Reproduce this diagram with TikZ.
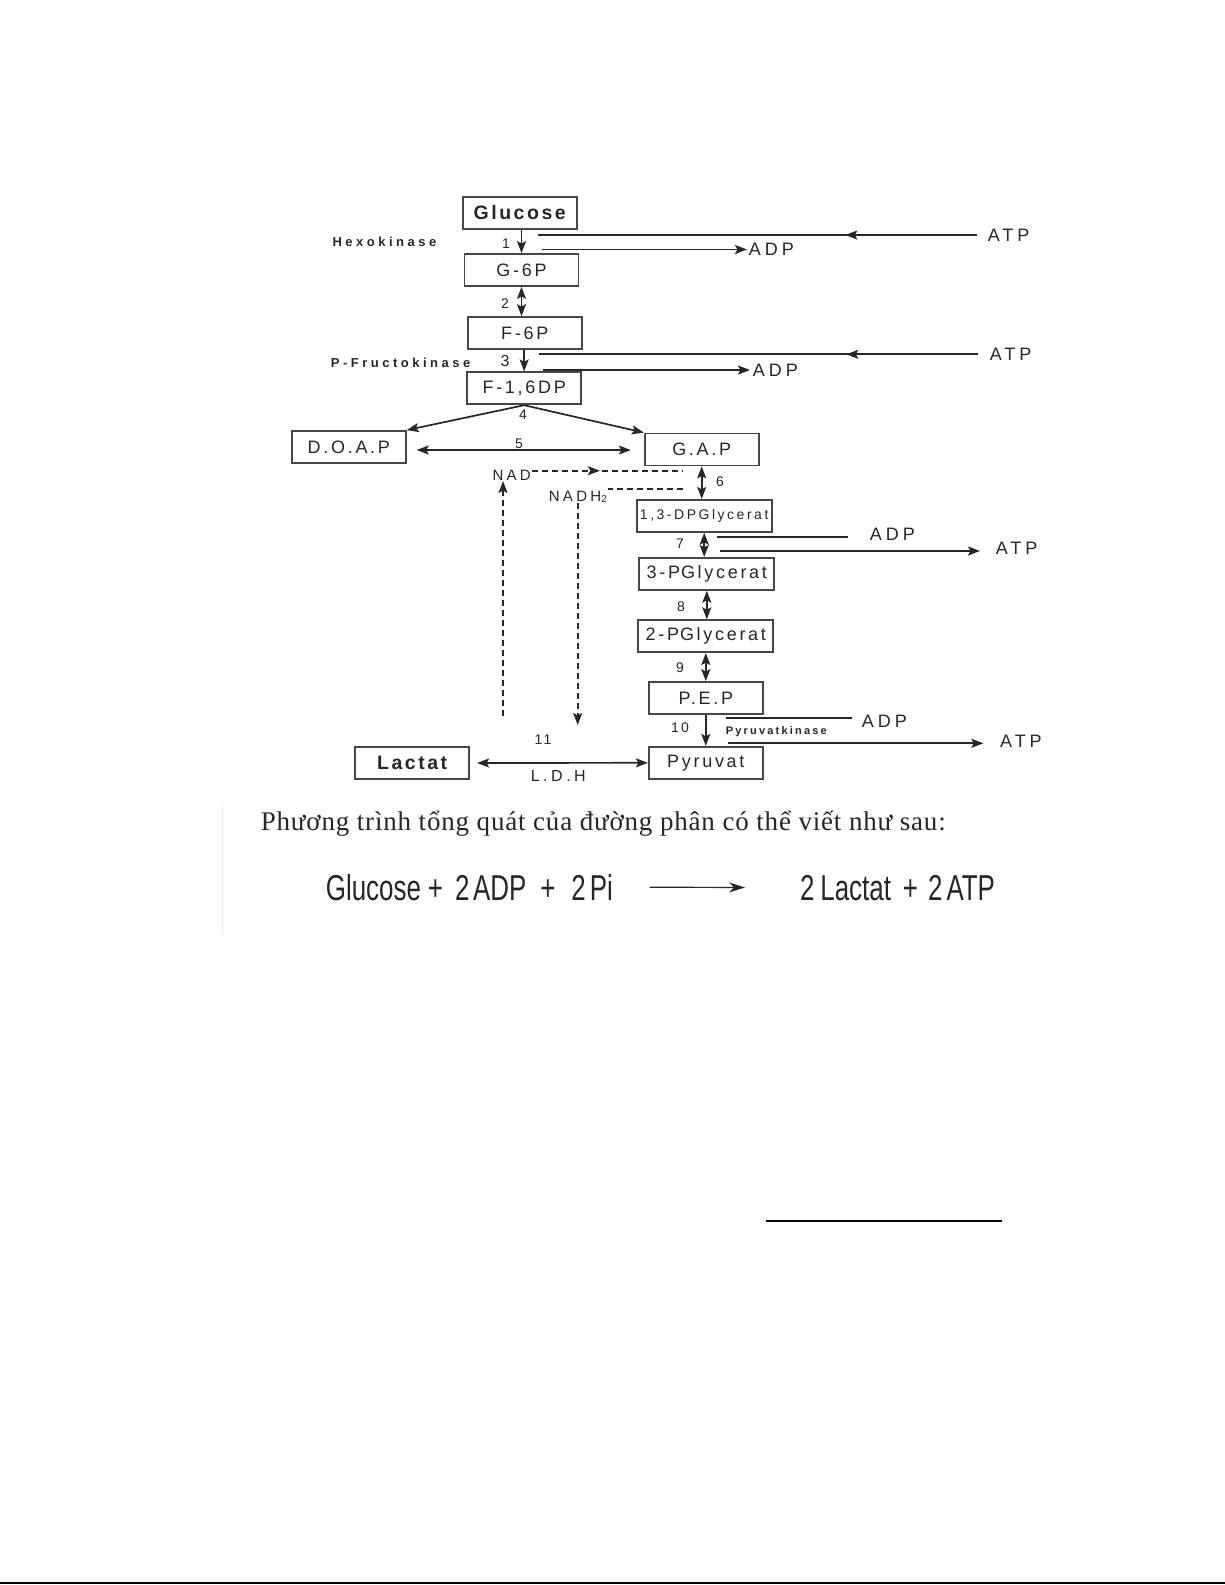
\documentclass[tikz,border=0pt]{standalone}
\usepackage{fontspec}
\setmainfont{Liberation Serif}
\newfontfamily\labfont{Liberation Sans}
\newfontfamily\phrasefont[LetterSpace=3]{Liberation Serif}
\newfontfamily\eqfont[FakeStretch=0.72]{Liberation Sans}
\usetikzlibrary{arrows.meta,decorations.markings}

\begin{document}
\begin{tikzpicture}[x=1pt,y=-1pt,line width=1.7pt,color=black!85,
  >={Stealth[length=12pt,width=9pt,inset=2.5pt]},
  lab/.style 2 args={inner sep=0pt,font=\fontsize{#1}{#1}\labfont\addfontfeature{LetterSpace=#2}},
  blab/.style 2 args={inner sep=0pt,font=\fontsize{#1}{#1}\labfont\bfseries\addfontfeature{LetterSpace=#2}},
  box/.style={draw=black!72,line width=1.8pt,minimum width=114pt,minimum height=32pt,lab={18}{15}},
  side/.style={lab={18}{22},anchor=west},
  enz/.style={anchor=west},
  midarrow/.style={postaction={decorate},decoration={markings,mark=at position #1 with {\arrow{>}}}},
  nadline/.style={dash pattern=on 6pt off 4pt,line width=1.6pt}]
  \useasboundingbox (0,0) rectangle (1225,1585);

  % main chain
  \node[box,blab={19.5}{13}] (glc) at (519.7,213) {Glucose};
  \node[box] (g6p) at (521.5,270) {G-6P};
  \node[box] (f6p) at (524.7,333) {F-6P};
  \node[box] (fdp) at (524.2,388.3) {F-1,6DP};
  \node[box] (doap) at (348.8,447) {D.O.A.P};
  \node[box] (gap) at (701.7,449.5) {G.A.P};
  \node[box,minimum width=135pt,lab={14}{18}] (dpg) at (704.2,515.8) {1,3-DPGlycerat};
  \node[box,minimum width=135pt] (pg3) at (706.8,573.8) {3-P\hspace{1pt}Glycerat};
  \node[box,minimum width=135pt] (pg2) at (705.8,636.2) {2-P\hspace{1pt}Glycerat};
  \node[box] (pep) at (705.8,698) {P.E.P};
  \node[box] (pyr) at (705.8,762.8) {Pyruvat};
  \node[box,blab={19.5}{13}] (lac) at (412.2,763) {Lactat};

  \draw[->] (g6p.north |- glc.south) -- (g6p.north);
  \draw[<->] (g6p.south) -- (g6p.south |- f6p.north);
  \draw[->] (fdp.north |- f6p.south) -- (fdp.north);
  \draw[->] (fdp.south) -- (doap.north east);
  \draw[->] (fdp.south) -- (gap.north west);
  \draw[<->,shorten <=10pt,shorten >=13pt] ([yshift=-3pt]doap.east) -- ([yshift=-3pt]doap.east -| gap.west);
  \draw[<->] (gap.south) -- (gap.south |- dpg.north);
  \draw[<->] (dpg.south) -- (dpg.south |- pg3.north);
  \draw[<->] (pg3.south) -- (pg3.south |- pg2.north);
  \draw[<->] (pg2.south) -- (pg2.south |- pep.north);
  \draw[->] (pep.south) -- (pyr.north);
  \draw[<->,shorten <=7pt] (lac.east) -- (pyr.west);

  % step numbers
  \foreach \n/\x/\y in {1/506/244,2/505/304,4/523/415,5/519/444,6/720/482,
                        7/680/544,8/681/607,9/680/668,10/680/728,11/543/740}
    \node[lab={14}{15}] (s\n) at (\x,\y) {\n};
  \node[lab={16}{15}] (s3) at (505,361) {3};

  % enzymes
  \node[enz,blab={13}{27}] (hk) at (331.7,241.7) {Hexokinase};
  \node[enz,blab={13}{27}] (pfk) at (330,362.7) {P-Fructokinase};
  \node[enz,blab={11}{20}] (pk) at (725,731.7) {Pyruvatkinase};
  \node[lab={16}{22}] (ldh) at (558.3,776) {L.D.H};

  % ATP / ADP side reactions
  \node[side] (atp1) at (987,235) {ATP};
  \node[side] (adp1) at (748,249.5) {ADP};
  \coordinate (r1a) at (538,235);
  \coordinate (r1b) at (541.7,249.5);
  \draw[midarrow=0.3] ([xshift=-10pt]atp1.west) -- (r1a);
  \draw[->,shorten >=1pt] (r1b) -- (adp1.west);

  \node[side] (atp3) at (989,354.3) {ATP};
  \node[side] (adp3) at (752,370) {ADP};
  \coordinate (r3a) at (539,354.3);
  \coordinate (r3b) at (543,370);
  \draw[midarrow=0.3] ([xshift=-11pt]atp3.west) -- (r3a);
  \draw[->,shorten >=2pt] (r3b) -- (adp3.west);

  \node[side] (adp7) at (869,534) {ADP};
  \node[side] (atp7) at (995,548.3) {ATP};
  \coordinate (r7a) at (717.3,537.3);
  \coordinate (r7b) at (720,551);
  \draw[shorten >=21pt] (r7a) -- (r7a -| adp7.west);
  \draw[->,shorten >=15pt] (r7b) -- (r7b -| atp7.west);

  \node[side] (adp10) at (861,721.7) {ADP};
  \node[side] (atp10) at (999.3,741.7) {ATP};
  \coordinate (r10a) at (726,718);
  \coordinate (r10b) at (727.7,743.3);
  \draw[shorten >=9pt] (r10a) -- (r10a -| adp10.west);
  \draw[->,shorten >=16pt] (r10b) -- (r10b -| atp10.west);

  % NAD / NADH2 shuttle
  \node[enz,lab={15}{22}] (nad) at (491.7,475) {NAD};
  \node[enz,lab={15}{22}] (nadh) at (548,496.7) {NADH\raisebox{-1.5pt}{\fontsize{10}{10}\selectfont 2}};
  \coordinate (r6a) at (683.3,470.7);
  \coordinate (r6b) at (683.3,489);
  \coordinate (r11a) at (503,716);
  \coordinate (r11b) at (577.7,725);
  \draw[nadline,midarrow=0.45] (nad.east |- r6a) -- (r6a);
  \draw[nadline] (r6b) -- (r6b -| nadh.east);
  \draw[nadline,->] (nadh.south -| r11b) -- (r11b);
  \draw[nadline,->] (r11a) -- (r11a |- nad.south);

  % overall equation
  \draw[black!7,line width=1pt] (222,806) -- (222,935);
  \node[anchor=base west,inner sep=0pt,font=\fontsize{27}{30}\phrasefont] (eqtxt) at (260,830.7)
    {Phương trình tổng quát của đường phân có thể viết như sau:};
  \node[anchor=base west,inner sep=0pt,font=\fontsize{36}{40}\eqfont] (eql) at (325,900)
    {Glucose\hspace{7pt}+\hspace{12pt}2\hspace{3.6pt}ADP\hspace{14pt}+\hspace{16pt}2\hspace{4pt}Pi};
  \node[anchor=base west,inner sep=0pt,font=\fontsize{36}{40}\eqfont] (eqr) at (799.3,900)
    {2\hspace{5.8pt}Lactat\hspace{12pt}+\hspace{10pt}2\hspace{4pt}ATP};
  \draw[-{Stealth[length=16pt,width=10pt]},line width=1.2pt,shorten <=35.7pt,shorten >=54.3pt] (eql.east) -- (eqr.west);

  % page rules
  \draw[black,line width=2pt] (766,1220.7) -- (1001.7,1220.7);
  \draw[black,line width=2pt] (0,1583.3) -- (1225,1583.3);
\end{tikzpicture}
\end{document}
